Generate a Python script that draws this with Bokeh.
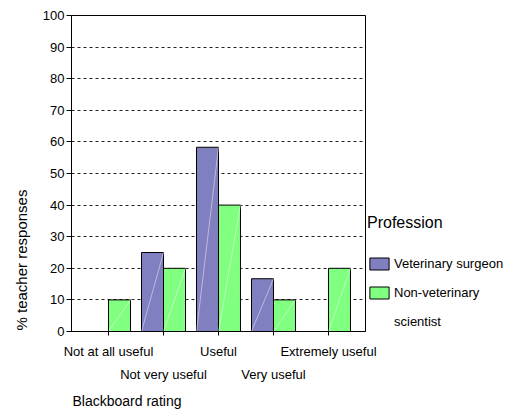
from bokeh.plotting import figure
from bokeh.models import (ColumnDataSource, Legend, LegendItem, FixedTicker, Range1d,
                          LinearAxis, Title)
from bokeh.embed import file_html
from bokeh.resources import INLINE

# ---- data ----
categories = ["Not at all useful", "Not very useful", "Useful", "Very useful", "Extremely useful"]
vet_surgeon = [0, 25, 58.3, 16.7, 0]
non_vet_scientist = [10, 20, 40, 10, 20]
y_ticks = [0, 10, 20, 30, 40, 50, 60, 70, 80, 90, 100]
series_names = ["Veterinary surgeon", "Non-veterinary"]
legend_wrap = "scientist"
legend_title = "Profession"
x_title = "Blackboard rating"
y_title = "% teacher responses"

PURPLE = "#8080C0"
GREEN = "#80FF80"
FONT = "Liberation Sans"
BW = 0.4

xs = list(range(len(categories)))
src = ColumnDataSource(dict(
    x=xs,
    vet=vet_surgeon,
    non=non_vet_scientist,
    vet_l=[x - BW for x in xs],
    vet_r=xs,
    non_l=xs,
    non_r=[x + BW for x in xs],
    zero=[0] * len(xs),
))

p = figure(frame_width=294, frame_height=316,
           min_border_left=70, min_border_top=15, min_border_right=141, min_border_bottom=80,
           x_range=Range1d(-0.673, 4.673), y_range=Range1d(0, 100),
           output_backend="svg", toolbar_location=None, tools="")

r_vet = p.quad(left="vet_l", right="vet_r", bottom="zero", top="vet", source=src,
               fill_color=PURPLE, line_color="black", line_width=1)
r_non = p.quad(left="non_l", right="non_r", bottom="zero", top="non", source=src,
               fill_color=GREEN, line_color="black", line_width=1)
# invisible renderer used only to carry the wrapped second line of the legend label
r_blank = p.quad(left=[], right=[], bottom=[], top=[], fill_alpha=0, line_alpha=0)
# faint diagonal highlights
p.segment(x0="vet_l", y0="zero", x1="vet_r", y1="vet", source=src,
          line_color="white", line_alpha=0.45, line_width=1)
p.segment(x0="non_l", y0="zero", x1="non_r", y1="non", source=src,
          line_color="white", line_alpha=0.45, line_width=1)

# grid / outline
p.xgrid.grid_line_color = None
p.ygrid.grid_line_color = "#222222"
p.ygrid.grid_line_dash = "3 3"
p.ygrid.ticker = FixedTicker(ticks=y_ticks)
p.outline_line_color = "black"
p.outline_line_width = 1

# y axis
p.yaxis.ticker = FixedTicker(ticks=y_ticks)
p.yaxis.major_tick_out = 5
p.yaxis.major_tick_in = 0
p.yaxis.minor_tick_line_color = None
p.yaxis.major_label_standoff = 2
p.yaxis.major_label_text_font = FONT
p.yaxis.major_label_text_font_size = "13px"
p.yaxis.major_label_text_color = "black"
p.yaxis.axis_line_color = "black"
p.yaxis.major_tick_line_color = "black"

# x axis, row 1 (even categories)
p.xaxis.ticker = FixedTicker(ticks=xs)
p.xaxis.major_tick_out = 4
p.xaxis.major_tick_in = 0
p.xaxis.minor_tick_line_color = None
p.xaxis.major_label_standoff = 8
p.xaxis.major_label_text_font = FONT
p.xaxis.major_label_text_font_size = "13px"
p.xaxis.major_label_text_color = "black"
p.xaxis.major_label_overrides = {i: (c if i % 2 == 0 else "") for i, c in enumerate(categories)}
p.xaxis.axis_line_color = "black"
p.xaxis.major_tick_line_color = "black"

# x axis, row 2 (odd categories)
ax2 = LinearAxis(ticker=FixedTicker(ticks=xs),
                 major_label_overrides={i: (c if i % 2 == 1 else "") for i, c in enumerate(categories)},
                 major_tick_out=0, major_tick_in=0, minor_tick_line_color=None,
                 major_tick_line_color=None, axis_line_color=None,
                 major_label_standoff=5, major_label_text_font=FONT,
                 major_label_text_font_size="13px", major_label_text_color="black")
p.add_layout(ax2, "below")

# axis titles
p.add_layout(Title(text=x_title, align="left", offset=1, standoff=13, text_font=FONT,
                   text_font_size="14px", text_font_style="normal", text_color="black"), "below")
p.add_layout(Title(text=y_title, align="left", offset=1, standoff=20, text_font=FONT,
                   text_font_size="15px", text_font_style="normal", text_color="black"), "left")

# legend
legend = Legend(items=[LegendItem(label=series_names[0], renderers=[r_vet]),
                       LegendItem(label=series_names[1], renderers=[r_non]),
                       LegendItem(label=legend_wrap, renderers=[r_blank])],
                location="bottom_left", title=legend_title,
                title_text_font=FONT, title_text_font_size="16px", title_text_font_style="normal",
                title_text_color="black", title_standoff=24,
                glyph_width=24, glyph_height=15, label_height=15, label_standoff=3,
                padding=0, margin=2, spacing=14, border_line_color=None,
                background_fill_alpha=0, label_text_font=FONT, label_text_font_size="13px",
                label_text_color="black")
p.add_layout(legend, "right")

open("out.html", "w").write(file_html(p, INLINE))
